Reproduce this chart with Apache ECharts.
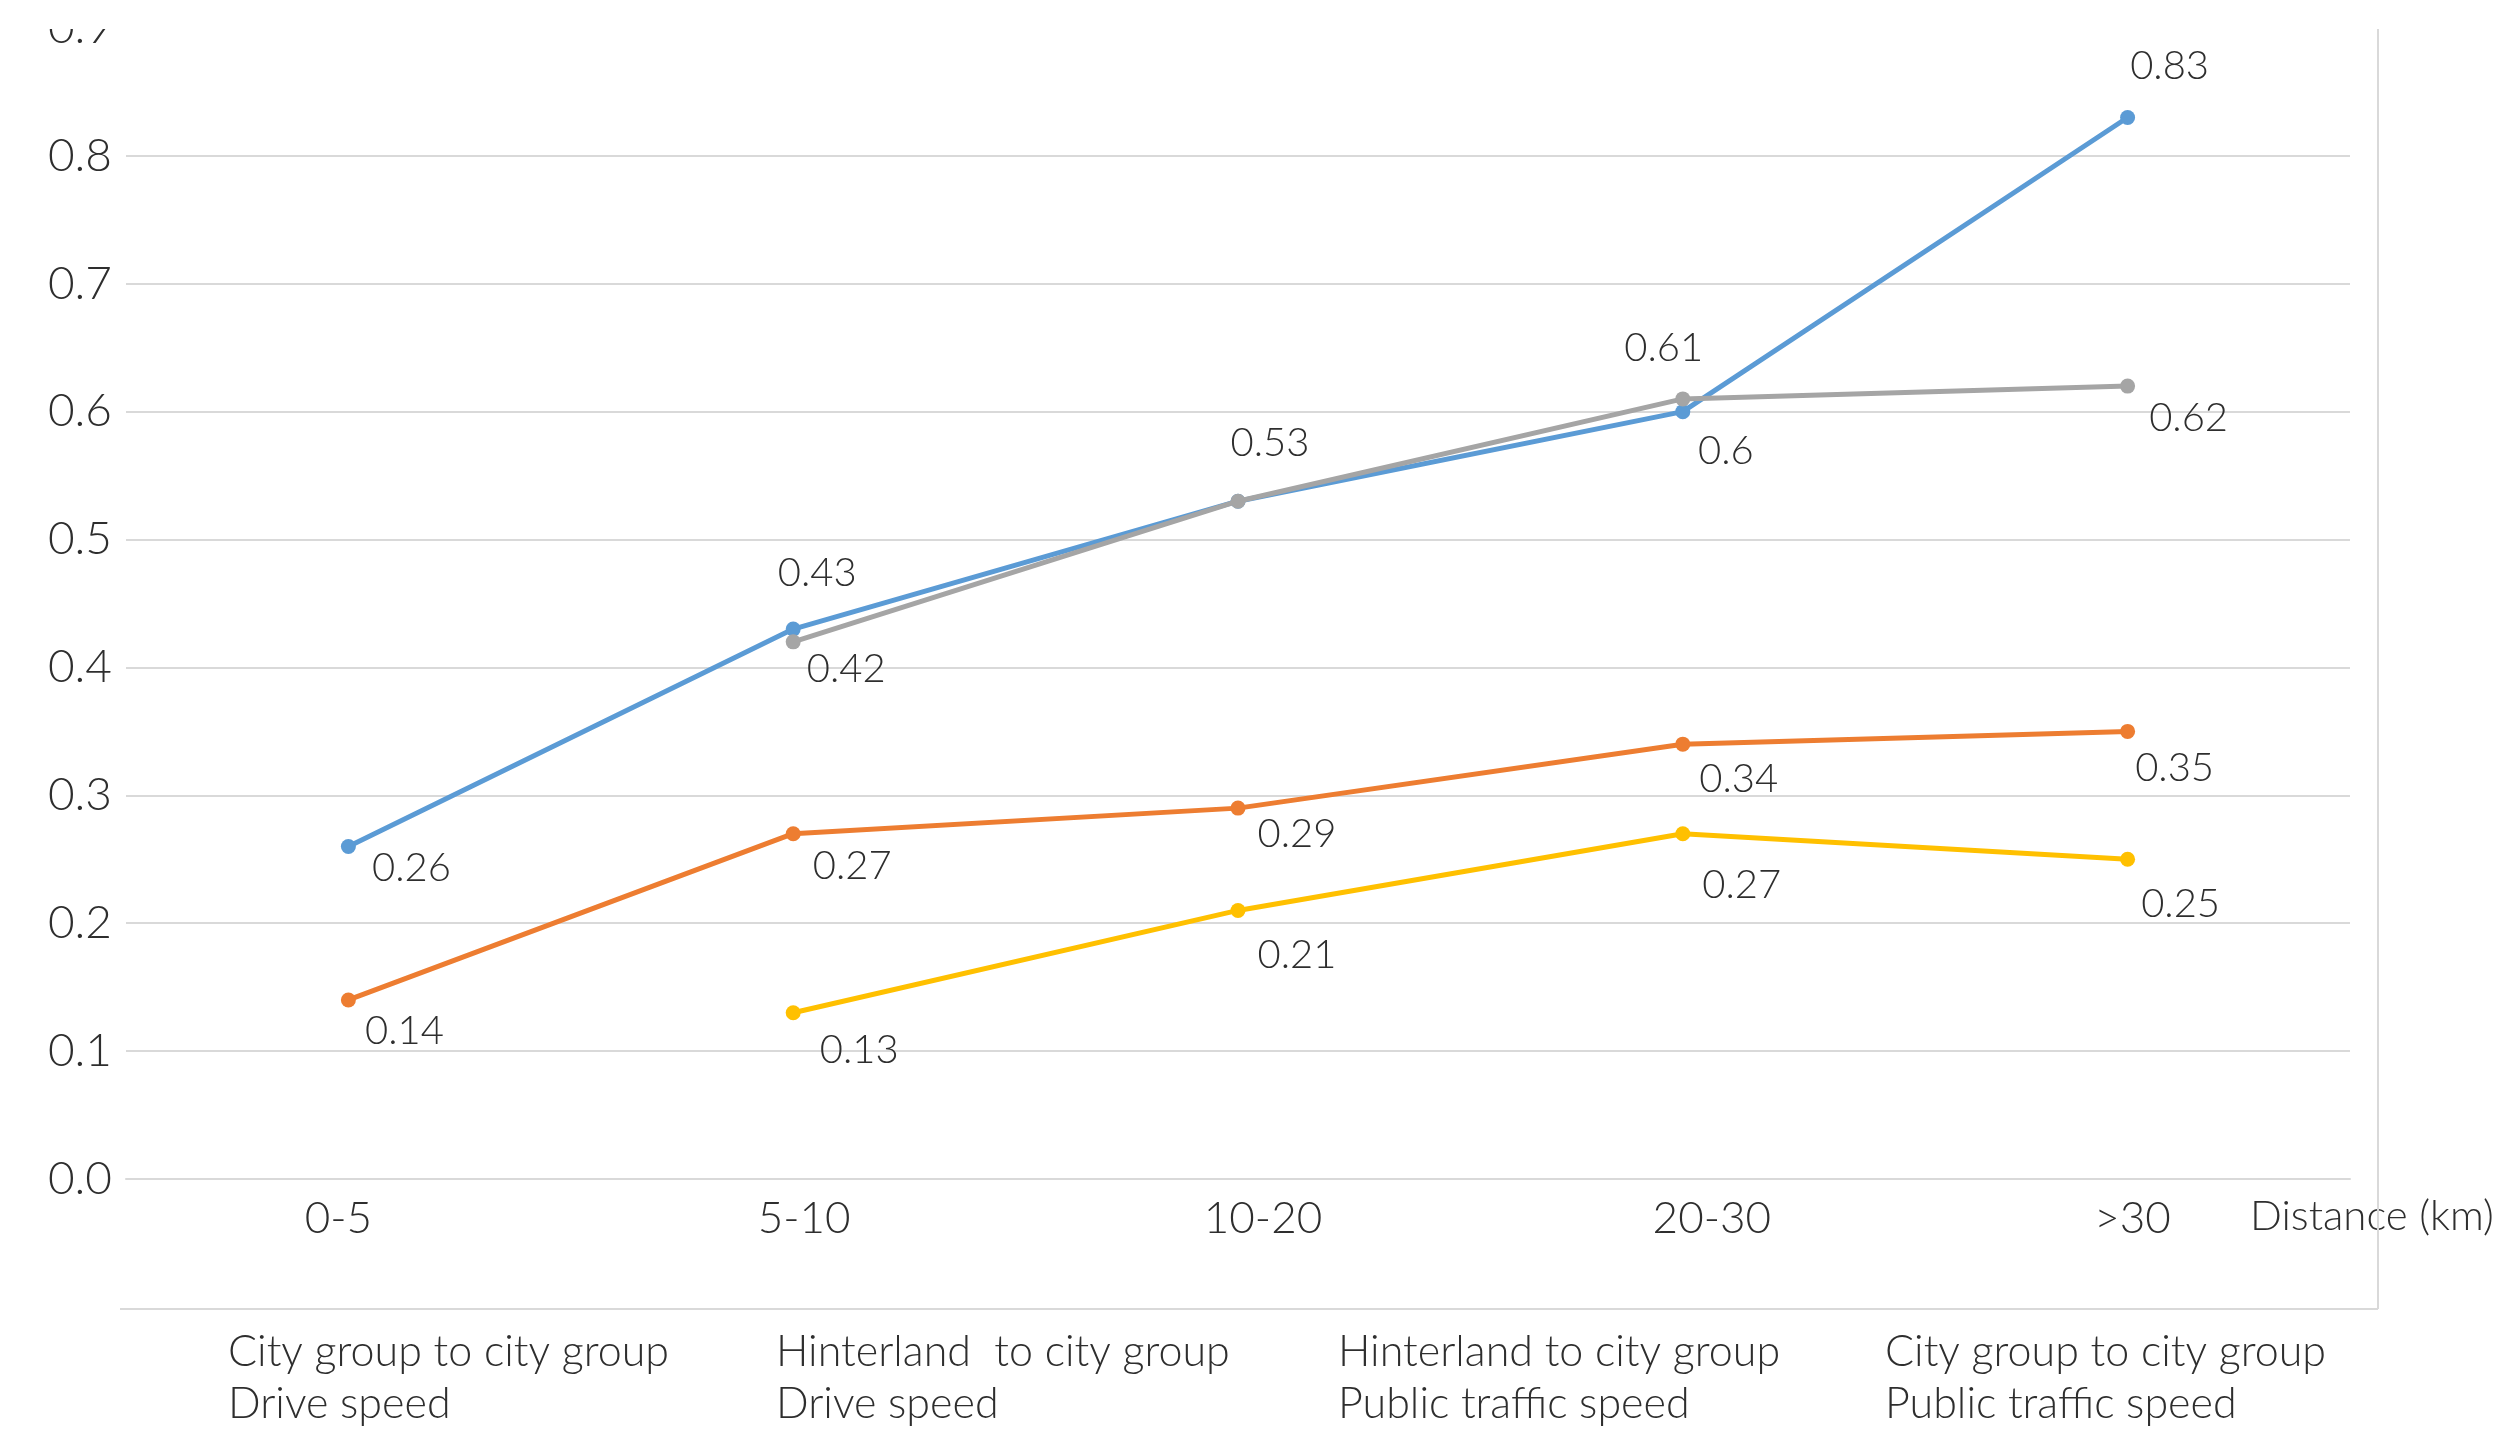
<!DOCTYPE html>
<html>
<head>
<meta charset="utf-8">
<script src="https://cdn.jsdelivr.net/npm/echarts@6/dist/echarts.min.js"></script>
<style>
html,body{margin:0;padding:0;background:#fff;}
#chart{width:2518px;height:1439px;}
</style>
</head>
<body>
<div id="chart"></div>
<script>
// ---- data ----
const categories = ['0-5', '5-10', '10-20', '20-30', '>30'];
const seriesNames = [
  'City group to city group\nDrive speed',
  'Hinterland  to city group\nDrive speed',
  'Hinterland to city group\nPublic traffic speed',
  'City group to city group\nPublic traffic speed'
];
const cityDriveValues = [0.26, 0.43, 0.53, 0.60, 0.83];
const hinterlandDriveValues = [0.14, 0.27, 0.29, 0.34, 0.35];
const hinterlandPublicValues = [null, 0.42, 0.53, 0.61, 0.62];
const cityPublicValues = [null, 0.13, 0.21, 0.27, 0.25];
const yMin = 0, yMax = 0.9, yStep = 0.1;
const axisName = 'Distance (km)';

// ---- style (label offsets relative to the point, in px) ----
const colors = ['#5B9BD5', '#ED7D31', '#A5A5A5', '#FFC000'];
const labelOffsets = [
  [[63, 22], [24, -56], null, [43, 39], [42, -51]],
  [[56, 31], [59, 32], [59, 26], [56, 35], [47, 37]],
  [null, [53, 27], [32, -58], [-19, -51], [61, 32]],
  [null, [66, 37], [59, 45], [59, 51], [53, 45]]
];
const xLabelShift = [-10, 11, 25, 29, 5];
const legendLefts = [223, 771, 1333, 1880];
const FONT = 'Lato';
const TXT = '#2e2e2e';

const allValues = [cityDriveValues, hinterlandDriveValues, hinterlandPublicValues, cityPublicValues];

function buildData(vals, offs) {
  return vals.map((v, i) => {
    if (v === null) return '-';
    const o = offs[i];
    return {
      value: v,
      label: o ? {show: true, position: 'inside', offset: o} : {show: false}
    };
  });
}

const series = allValues.map((vals, k) => ({
  name: seriesNames[k],
  type: 'line',
  data: buildData(vals, labelOffsets[k]),
  color: colors[k],
  symbol: 'circle',
  symbolSize: 15,
  lineStyle: {width: 5, color: colors[k]},
  itemStyle: {color: colors[k]},
  label: {
    show: true,
    fontFamily: FONT, fontSize: 40, fontWeight: 300, color: TXT,
    formatter: p => String(p.value)
  },
  z: 2 + k,
  animation: false
}));

const chart = echarts.init(document.getElementById('chart'), null, {renderer: 'canvas'});
chart.setOption({
  backgroundColor: '#fff',
  animation: false,
  grid: {left: 126, right: 168, top: 28, bottom: 260, containLabel: false},
  xAxis: {
    type: 'category',
    data: categories.map((c, i) => ({value: c, textStyle: {padding: [0, 0, 0, 2 * xLabelShift[i]]}})),
    boundaryGap: true,
    axisLine: {show: true, lineStyle: {color: '#d9d9d9', width: 2}},
    axisTick: {show: false},
    axisLabel: {fontFamily: FONT, fontSize: 44, fontWeight: 300, color: TXT, margin: 18},
    name: axisName,
    nameLocation: 'end',
    nameGap: -100,
    nameTextStyle: {fontFamily: FONT, fontSize: 42, fontWeight: 300, color: TXT,
      align: 'left', verticalAlign: 'top', padding: [16, 0, 0, 0]}
  },
  yAxis: {
    type: 'value',
    min: yMin, max: yMax, interval: yStep,
    axisLine: {show: false},
    axisTick: {show: false},
    splitLine: {lineStyle: {color: '#d9d9d9', width: 2}},
    axisLabel: {fontFamily: FONT, fontSize: 46, fontWeight: 300, color: TXT, margin: 14,
      formatter: v => v.toFixed(1)}
  },
  legend: seriesNames.map((n, k) => ({
    data: [n],
    left: legendLefts[k],
    top: 1326,
    orient: 'horizontal',
    icon: 'none',
    itemWidth: 0,
    itemHeight: 0,
    padding: 0,
    selectedMode: false,
    textStyle: {fontFamily: FONT, fontSize: 43, fontWeight: 300, color: TXT, lineHeight: 52}
  })),
  graphic: [
    {type: 'rect', shape: {x: 0, y: 0, width: 2518, height: 29}, style: {fill: '#fff'}, z: 100, silent: true},
    {type: 'line', shape: {x1: 120, y1: 1309, x2: 2378, y2: 1309}, style: {stroke: '#d9d9d9', lineWidth: 2}, z: 1, silent: true},
    {type: 'line', shape: {x1: 2378, y1: 29, x2: 2378, y2: 1309}, style: {stroke: '#d9d9d9', lineWidth: 2}, z: 1, silent: true}
  ],
  series: series
});
</script>
</body>
</html>
